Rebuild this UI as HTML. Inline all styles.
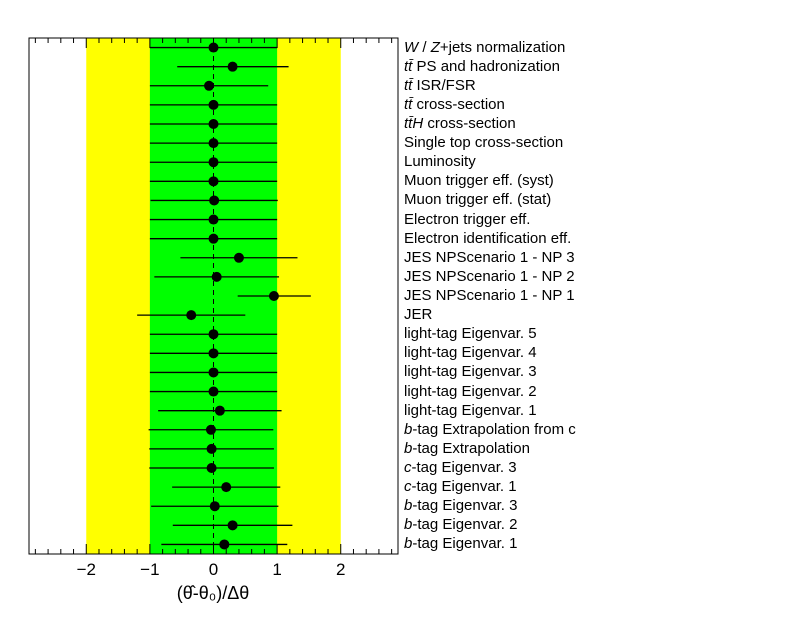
<!DOCTYPE html>
<html><head><meta charset="utf-8"><style>
body{margin:0;background:#fff;}
svg text{font-family:"Liberation Sans",sans-serif;}
</style></head><body>
<svg id="chart" width="796" height="612" xmlns="http://www.w3.org/2000/svg">
<g id="bands"></g>
<g id="marks"></g>
<g id="axis"></g>
<g id="labels"></g>
</svg>
<script>
const names=["<i>W</i> / <i>Z</i>+jets normalization","<i>t</i><i>t̄</i> PS and hadronization","<i>t</i><i>t̄</i> ISR/FSR","<i>t</i><i>t̄</i> cross-section","<i>t</i><i>t̄</i><i>H</i> cross-section","Single top cross-section","Luminosity","Muon trigger eff. (syst)","Muon trigger eff. (stat)","Electron trigger eff.","Electron identification eff.","JES NPScenario 1 - NP 3","JES NPScenario 1 - NP 2","JES NPScenario 1 - NP 1","JER","light-tag Eigenvar. 5","light-tag Eigenvar. 4","light-tag Eigenvar. 3","light-tag Eigenvar. 2","light-tag Eigenvar. 1","<i>b</i>-tag Extrapolation from c","<i>b</i>-tag Extrapolation","<i>c</i>-tag Eigenvar. 3","<i>c</i>-tag Eigenvar. 1","<i>b</i>-tag Eigenvar. 3","<i>b</i>-tag Eigenvar. 2","<i>b</i>-tag Eigenvar. 1"];
const pulls=[0.0,0.3,-0.07,0.0,0.0,0.0,0.0,0.0,0.01,0.0,0.0,0.4,0.05,0.95,-0.35,0.0,0.0,0.0,0.0,0.1,-0.04,-0.03,-0.03,0.2,0.02,0.3,0.17];
const errLo=[1.0,0.87,0.93,1.0,1.0,1.0,1.0,1.0,1.0,1.0,1.0,0.92,0.98,0.57,0.85,1.0,1.0,1.0,1.0,0.97,0.98,0.98,0.98,0.85,1.0,0.94,0.99];
const errHi=[1.0,0.88,0.93,1.0,1.0,1.0,1.0,1.0,1.0,1.0,1.0,0.92,0.98,0.58,0.85,1.0,1.0,1.0,1.0,0.97,0.98,0.98,0.98,0.85,1.0,0.94,0.99];
const ticks=[-2,-1,0,1,2];
const tickLabels=["\u22122","\u22121","0","1","2"];
const NS="http://www.w3.org/2000/svg";
const L=29,R=398,T=38,B=554,xmin=-2.9,xmax=2.9;
const X=v=>L+(v-xmin)/(xmax-xmin)*(R-L);
const rowH=(B-T)/names.length;
const Y=i=>T+rowH*(i+0.5);
function el(tag,attrs,parent){const e=document.createElementNS(NS,tag);for(const k in attrs)e.setAttribute(k,attrs[k]);parent.appendChild(e);return e;}
const bands=document.getElementById('bands'),marks=document.getElementById('marks'),axis=document.getElementById('axis'),labels=document.getElementById('labels');
let b=el('rect',{x:X(-2),y:T,width:X(2)-X(-2),height:B-T,fill:'#ffff00'},bands);


b=el('rect',{x:X(-1),y:T,width:X(1)-X(-1),height:B-T,fill:'#00ff00'},bands);


let z=el('line',{x1:X(0),x2:X(0),y1:T,y2:B,stroke:'#000','stroke-dasharray':'5,4'},bands);


names.forEach((n,i)=>{
  const y=Y(i);
  const l=el('line',{x1:X(pulls[i]-errLo[i]),x2:X(pulls[i]+errHi[i]),y1:y,y2:y,stroke:'#000','stroke-width':1.3},marks);
  
  
  const c=el('circle',{cx:X(pulls[i]),cy:y,r:5,fill:'#000'},marks);
  
  
  const t=el('foreignObject',{x:404,y:y-10,width:390,height:20},labels);
  t.innerHTML='<div xmlns="http://www.w3.org/1999/xhtml" style="font:15px \'Liberation Sans\',sans-serif;line-height:20px;white-space:nowrap">'+n+'</div>';
  
  
});
const f=el('rect',{x:L,y:T,width:R-L,height:B-T,fill:'none',stroke:'#000','stroke-width':1},axis);


for(let k=-14;k<=14;k++){
  const v=k*0.2,x=X(v),maj=(k%5===0),len=maj?10:5;
  el('line',{x1:x,x2:x,y1:B,y2:B-len,stroke:'#000'},axis);
  el('line',{x1:x,x2:x,y1:T,y2:T+len,stroke:'#000'},axis);
}
ticks.forEach((v,i)=>{
  const t=el('text',{x:X(v),y:B+21,'text-anchor':'middle','font-size':17},axis);
  t.textContent=tickLabels[i];
  
  
});
const xt=el('text',{x:213,y:599,'text-anchor':'middle','font-size':18,'font-family':'Liberation Serif'},axis);
xt.textContent='(\u03B8\u0302-\u03B8\u2080)/\u0394\u03B8';


</script>
</body></html>
